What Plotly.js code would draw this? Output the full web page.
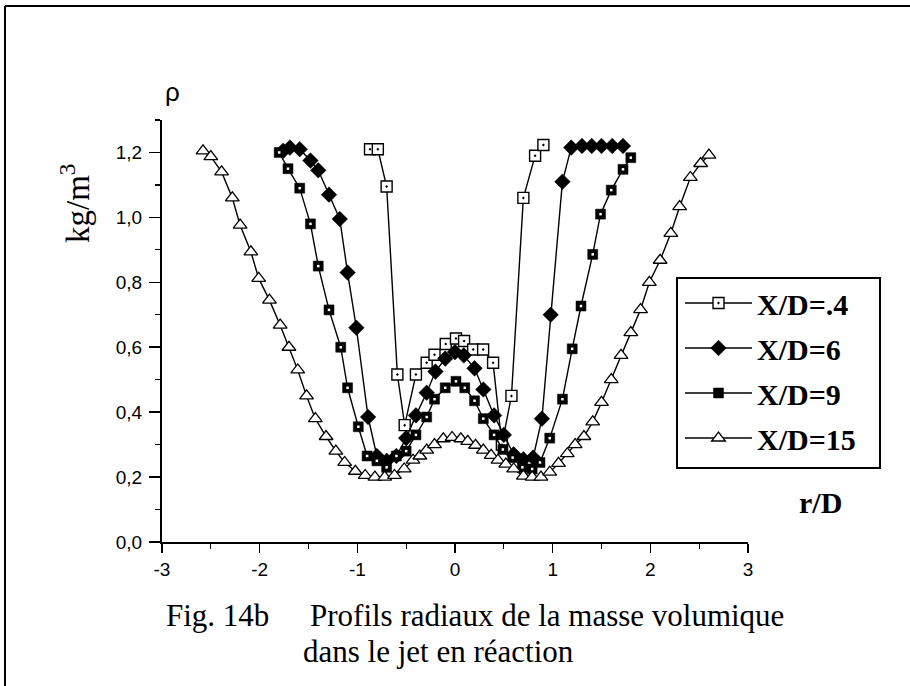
<!DOCTYPE html>
<html><head><meta charset="utf-8">
<script src="https://cdn.plot.ly/plotly-3.0.1.min.js"></script>
<style>html,body{margin:0;padding:0;background:#fff}#chart{width:910px;height:686px}</style>
</head><body><div id="chart"></div>
<script>
const seriesNames = ["X/D=.4", "X/D=6", "X/D=9", "X/D=15"];

const xd04_r   = [-0.87, -0.79, -0.70, -0.59, -0.515, -0.40, -0.29, -0.21, -0.095, 0.01, 0.093, 0.186, 0.288, 0.39, 0.48, 0.578, 0.70, 0.82, 0.905];
const xd04_rho = [1.21, 1.21, 1.095, 0.516, 0.36, 0.516, 0.552, 0.577, 0.61, 0.627, 0.619, 0.593, 0.593, 0.552, 0.30, 0.45, 1.06, 1.19, 1.223];

const xd6_r   = [-1.76, -1.69, -1.59, -1.48, -1.40, -1.29, -1.18, -1.10, -1.01, -0.89, -0.80, -0.70, -0.60, -0.50, -0.40, -0.29, -0.20, -0.10, 0.0, 0.09, 0.20, 0.29, 0.40, 0.50, 0.60, 0.70, 0.80, 0.89, 0.98, 1.10, 1.19, 1.30, 1.40, 1.50, 1.61, 1.72];
const xd6_rho = [1.205, 1.215, 1.21, 1.175, 1.145, 1.07, 0.995, 0.83, 0.66, 0.385, 0.265, 0.25, 0.265, 0.32, 0.39, 0.46, 0.525, 0.565, 0.585, 0.575, 0.535, 0.47, 0.39, 0.33, 0.27, 0.255, 0.26, 0.38, 0.70, 1.11, 1.215, 1.22, 1.22, 1.22, 1.22, 1.22];

const xd9_r   = [-1.80, -1.71, -1.59, -1.48, -1.40, -1.29, -1.17, -1.10, -0.99, -0.90, -0.80, -0.70, -0.60, -0.50, -0.40, -0.29, -0.21, -0.10, 0.01, 0.10, 0.20, 0.29, 0.40, 0.49, 0.59, 0.69, 0.79, 0.87, 0.97, 1.10, 1.20, 1.29, 1.41, 1.49, 1.60, 1.72, 1.80];
const xd9_rho = [1.20, 1.15, 1.09, 0.98, 0.85, 0.715, 0.60, 0.475, 0.355, 0.265, 0.25, 0.23, 0.265, 0.28, 0.33, 0.385, 0.44, 0.475, 0.495, 0.475, 0.435, 0.38, 0.33, 0.285, 0.26, 0.23, 0.225, 0.245, 0.32, 0.44, 0.595, 0.727, 0.886, 1.01, 1.084, 1.148, 1.184];

const xd15_r   = [-2.58, -2.50, -2.39, -2.28, -2.20, -2.09, -2.01, -1.90, -1.79, -1.70, -1.61, -1.52, -1.43, -1.32, -1.22, -1.13, -1.02, -0.92, -0.82, -0.72, -0.62, -0.52, -0.43, -0.36, -0.29, -0.21, -0.12, -0.03, 0.06, 0.13, 0.21, 0.29, 0.37, 0.44, 0.52, 0.60, 0.70, 0.79, 0.88, 0.97, 1.06, 1.15, 1.23, 1.32, 1.41, 1.50, 1.60, 1.70, 1.80, 1.90, 1.99, 2.10, 2.21, 2.30, 2.41, 2.515, 2.60];
const xd15_rho = [1.205, 1.187, 1.14, 1.06, 0.976, 0.894, 0.812, 0.745, 0.668, 0.60, 0.53, 0.45, 0.38, 0.325, 0.28, 0.245, 0.218, 0.205, 0.20, 0.20, 0.205, 0.225, 0.252, 0.265, 0.283, 0.30, 0.318, 0.322, 0.318, 0.31, 0.298, 0.283, 0.267, 0.252, 0.24, 0.225, 0.203, 0.20, 0.20, 0.215, 0.242, 0.272, 0.30, 0.325, 0.37, 0.43, 0.50, 0.575, 0.645, 0.716, 0.80, 0.868, 0.951, 1.033, 1.123, 1.166, 1.192];

const xTickVals = [-3, -2, -1, 0, 1, 2, 3];
const xTickText = ["-3", "-2", "-1", "0", "1", "2", "3"];
const yTickVals = [0, 0.2, 0.4, 0.6, 0.8, 1.0, 1.2];
const yTickText = ["0,0", "0,2", "0,4", "0,6", "0,8", "1,0", "1,2"];

const W = 910, H = 686, L = 162, R = 162, T = 120, B = 144;
const pw = W - L - R, ph = H - T - B;
const px = x => (x - L) / pw;
const py = y => (H - B - y) / ph;

const SANS = "Liberation Sans, Arial, sans-serif";
const SERIF = "Liberation Serif, Times New Roman, serif";
const lineStyle = {color: "#000", width: 1.4};

const traces = [
  {type: "scatter", mode: "lines+markers", x: xd04_r, y: xd04_rho, name: seriesNames[0], legendgroup: "g1",
   line: lineStyle, marker: {symbol: "square-dot", size: 11, color: "#fff", line: {color: "#000", width: 1.4}}},
  {type: "scatter", mode: "lines+markers", x: xd6_r, y: xd6_rho, name: seriesNames[1], legendgroup: "g2",
   line: lineStyle, marker: {symbol: "diamond", size: 12, color: "#000", line: {color: "#000", width: 0.5}}},
  {type: "scatter", mode: "lines+markers", x: xd9_r, y: xd9_rho, name: seriesNames[2], legendgroup: "g3",
   line: lineStyle, marker: {symbol: "square", size: 10, color: "#000", line: {color: "#000", width: 0.5}}},
  {type: "scatter", mode: "markers", x: xd9_r, y: xd9_rho, name: seriesNames[2], legendgroup: "g3", showlegend: false,
   hoverinfo: "skip", marker: {symbol: "square", size: 2.5, color: "#fff", line: {width: 0}}},
  {type: "scatter", mode: "lines+markers", x: xd15_r, y: xd15_rho, name: seriesNames[3], legendgroup: "g4",
   line: lineStyle, marker: {symbol: "triangle-up", size: 12, color: "#fff", line: {color: "#000", width: 1.3}}}
];

function note(x, y, text, font, extra) {
  return Object.assign({xref: "paper", yref: "paper", x: px(x), y: py(y), text: text, showarrow: false,
    xanchor: "center", yanchor: "middle", font: font}, extra || {});
}

const layout = {
  width: W, height: H,
  margin: {l: L, r: R, t: T, b: B, pad: 0},
  paper_bgcolor: "#fff", plot_bgcolor: "#fff",
  showlegend: true,
  xaxis: {
    range: [-3, 3], tickmode: "array", tickvals: xTickVals, ticktext: xTickText,
    ticks: "outside", ticklen: 9, tickwidth: 1.5, tickcolor: "#000",
    showline: true, linecolor: "#000", linewidth: 2, showgrid: false, zeroline: false,
    tickfont: {family: SANS, size: 19, color: "#000"}, ticklabelstandoff: 0,
    minor: {tickmode: "linear", tick0: 0, dtick: 0.5, ticks: "outside", ticklen: 5, tickwidth: 1.2, tickcolor: "#000", showgrid: false}
  },
  yaxis: {
    range: [0, 1.3], tickmode: "array", tickvals: yTickVals, ticktext: yTickText,
    ticks: "outside", ticklen: 11, tickwidth: 1.5, tickcolor: "#000",
    showline: true, linecolor: "#000", linewidth: 2, showgrid: false, zeroline: false,
    tickfont: {family: SANS, size: 19, color: "#000"}, ticklabelstandoff: 3,
    minor: {tickmode: "linear", tick0: 0, dtick: 0.1, ticks: "outside", ticklen: 5, tickwidth: 1.2, tickcolor: "#000", showgrid: false}
  },
  legend: {
    x: px(680), y: py(277), xanchor: "left", yanchor: "top",
    bgcolor: "rgba(0,0,0,0)", borderwidth: 0,
    font: {family: SERIF, size: 30, color: "#000", weight: "bold"},
    itemwidth: 67, tracegroupgap: 3, traceorder: "grouped"
  },
  shapes: [
    {type: "rect", xref: "paper", yref: "paper", x0: px(677), x1: px(880), y0: py(278), y1: py(468), line: {color: "#000", width: 2}},
    {type: "line", xref: "paper", yref: "paper", x0: px(5), x1: px(5), y0: py(6), y1: py(700), line: {color: "#000", width: 2}},
    {type: "line", xref: "paper", yref: "paper", x0: px(5), x1: px(920), y0: py(6), y1: py(6), line: {color: "#000", width: 2}}
  ],
  annotations: [
    note(172, 92, "ρ", {family: SANS, size: 26, color: "#000"}),
    note(75, 204, "kg/m<sup>3</sup>", {family: SERIF, size: 33, color: "#000"}, {textangle: -90}),
    note(820, 502, "r/D", {family: SERIF, size: 30, color: "#000", weight: "bold"}),
    note(164, 615, "Fig. 14b", {family: SERIF, size: 31, color: "#000"}, {xanchor: "left"}),
    note(308, 615, "Profils radiaux de la masse volumique", {family: SERIF, size: 31, color: "#000"}, {xanchor: "left"}),
    note(301, 651, "dans le jet en réaction", {family: SERIF, size: 31, color: "#000"}, {xanchor: "left"})
  ]
};

Plotly.newPlot("chart", traces, layout, {displayModeBar: false, staticPlot: true});
</script>
</body></html>
